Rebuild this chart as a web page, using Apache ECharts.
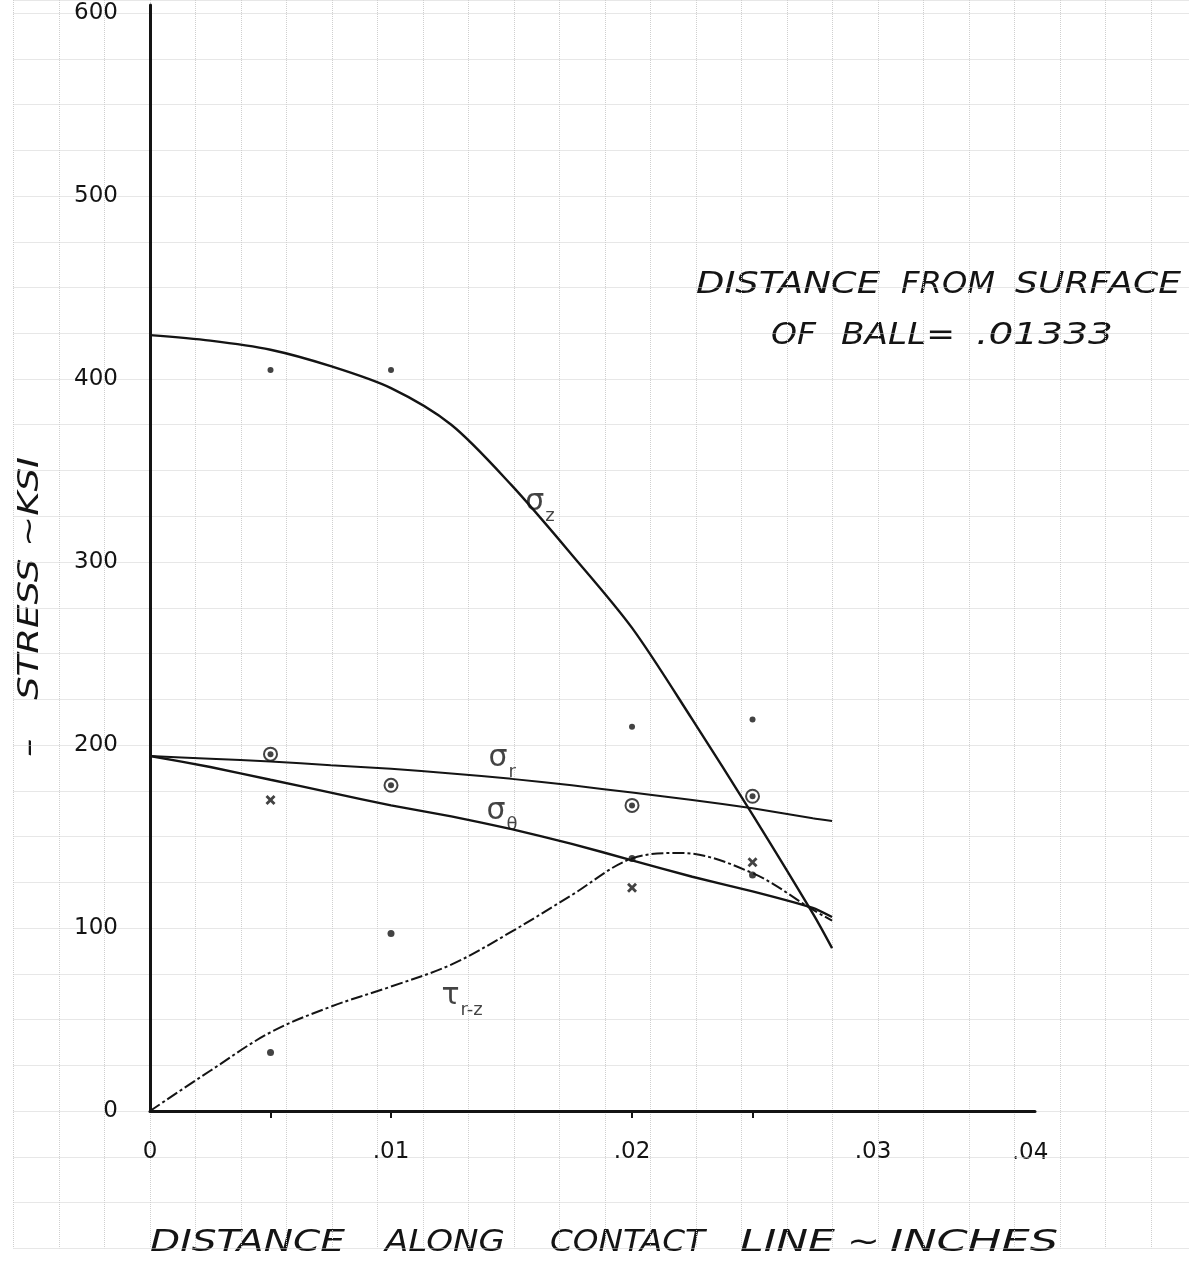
<!DOCTYPE html>
<html><head><meta charset="utf-8">
<script src="https://cdn.jsdelivr.net/npm/echarts@6/dist/echarts.min.js"></script>
<style>html,body{margin:0;padding:0;background:#fff}#c{width:1189px;height:1262px}</style>
</head><body><div id="c"></div>
<script>
// ---- data ----
const curveX      = [0, 0.0025, 0.005, 0.0075, 0.01, 0.0125, 0.015, 0.0175, 0.02, 0.0225, 0.025, 0.0275, 0.0283];
const sigmaZCurve = [424, 421, 416, 407, 395, 375, 342, 304, 264, 214, 162, 108, 89];
const sigmaRCurve = [194, 192.5, 191, 189, 187, 184.5, 181.5, 178, 174, 170, 165.5, 160, 158.5];
const sigmaTCurve = [194, 188, 181, 174, 167, 161, 154, 146, 137, 128, 120, 111, 106];
const tauX        = [0, 0.0025, 0.005, 0.0075, 0.01, 0.0125, 0.015, 0.0175, 0.02, 0.022, 0.025, 0.0275, 0.0283];
const tauCurve    = [0, 22, 43, 57, 68, 80, 98, 118, 138, 141, 130, 110, 104];

const pointX      = [0.005, 0.01, 0.02, 0.025];
const sigmaZPts   = [405, 405, 210, 214];
const sigmaRPts   = [195, 178, 167, 172];
const tauPts      = [32, 97, 138, 129];
const sigmaTPtX   = [0.005, 0.02, 0.025];
const sigmaTPts   = [170, 122, 136];

const xTickValues  = [0.005, 0.01, 0.02, 0.025];
const xLabelValues = [0, 0.01, 0.02, 0.03];
const yTicks       = [0, 100, 200, 300, 400, 500, 600];

const curveLabelX = [0.01618, 0.01461, 0.01461, 0.01295];
const curveLabelY = [330.6, 190.7, 161.7, 60.7];
const curveLabelTexts = ['{g|σ}{s|z}', '{g|σ}{s|r}', '{g|σ}{s|θ}', '{g|τ}{s|r-z}'];

// ---- helpers ----
const zip = (xs, ys) => xs.map((x, i) => [x, ys[i]]);
const ink = '#141414';
const FF = '"DejaVu Sans", sans-serif';
const cvs = document.createElement('canvas').getContext('2d');
function measure(text, font) { cvs.font = font; return cvs.measureText(text).width; }
function fitText(text, left, right, cy, size, italic) {
  const font = (italic ? 'italic ' : '') + size + 'px ' + FF;
  const w = measure(text, font);
  return { type: 'text', x: left, y: cy, scaleX: (right - left) / w, silent: true,
    style: { text: text, font: font, fill: ink, textAlign: 'left', textVerticalAlign: 'middle' } };
}
function fitRotated(text, x, bottom, top, size) {
  const font = 'italic ' + size + 'px ' + FF;
  const w = measure(text, font);
  return { type: 'text', x: x, y: (bottom + top) / 2, rotation: Math.PI / 2, scaleX: (bottom - top) / w, silent: true,
    style: { text: text, font: font, fill: ink, textAlign: 'center', textVerticalAlign: 'middle' } };
}

const graphics = [
  fitText('DISTANCE', 696, 880, 285, 31, true),
  fitText('FROM', 901, 995, 285, 31, true),
  fitText('SURFACE', 1015, 1181, 285, 31, true),
  fitText('OF', 771, 816, 336, 31, true),
  fitText('BALL=', 841, 955, 336, 31, true),
  fitText('.01333', 976, 1113, 336, 31, true),
  fitText('DISTANCE', 150, 345, 1243, 30, true),
  fitText('ALONG', 385, 505, 1243, 30, true),
  fitText('CONTACT', 550, 705, 1243, 30, true),
  fitText('LINE', 740, 835, 1243, 30, true),
  fitText('~', 847, 880, 1243, 30, true),
  fitText('INCHES', 890, 1058, 1243, 30, true),
  fitRotated('STRESS ~KSI', 30, 700, 457, 29),
  fitRotated('-', 30, 758, 738, 29),
  { type: 'text', x: 1030, y: 1153, silent: true,
    style: { text: '.04', font: '23px ' + FF, fill: ink, textAlign: 'center', textVerticalAlign: 'middle' } }
];

const xSymbol = 'path://M2,0 L5,3 L8,0 L10,2 L7,5 L10,8 L8,10 L5,7 L2,10 L0,8 L3,5 L0,2 Z';
const paperLine = { show: true, lineStyle: { color: '#cfcfcf', type: 'dotted', width: 1 } };

const chart = echarts.init(document.getElementById('c'), null, { renderer: 'canvas' });
chart.setOption({
  backgroundColor: '#ffffff',
  animation: false,
  grid: [
    { left: 150, right: 154, top: 5, bottom: 151 },
    { left: 13.5, right: 0, top: 0, bottom: 13.75 }
  ],
  xAxis: [
    { type: 'value', gridIndex: 0, min: 0, max: 0.03672, interval: 0.01,
      axisLine: { show: true, lineStyle: { color: ink, width: 3 } },
      axisTick: { show: true, customValues: xTickValues, length: 7, lineStyle: { color: ink, width: 2 } },
      axisLabel: { customValues: xLabelValues, margin: 30, color: ink, fontSize: 23, fontFamily: FF,
        formatter: v => v === 0 ? '0' : ('.' + String(Math.round(v * 100)).padStart(2, '0')) },
      splitLine: { show: false } },
    { type: 'value', gridIndex: 1, min: 0, max: 1175.5, interval: 45.5,
      axisLine: { show: false }, axisTick: { show: false }, axisLabel: { show: false },
      splitLine: paperLine }
  ],
  yAxis: [
    { type: 'value', gridIndex: 0, min: 0, max: 604.4, interval: 100,
      axisLine: { show: true, lineStyle: { color: ink, width: 3 } },
      axisTick: { show: false },
      axisLabel: { margin: 32, color: ink, fontSize: 23, fontFamily: FF, showMaxLabel: false,
        formatter: v => yTicks.indexOf(v) >= 0 ? String(v) : '' },
      splitLine: { show: false } },
    { type: 'value', gridIndex: 1, min: 0, max: 1248.25, interval: 45.75,
      axisLine: { show: false }, axisTick: { show: false }, axisLabel: { show: false },
      splitLine: paperLine }
  ],
  graphic: graphics,
  series: [
    { name: 'σz', type: 'line', data: zip(curveX, sigmaZCurve), smooth: 0.3, showSymbol: false,
      lineStyle: { color: ink, width: 2.4 }, z: 5, silent: true },
    { name: 'σr', type: 'line', data: zip(curveX, sigmaRCurve), smooth: 0.2, showSymbol: false,
      lineStyle: { color: ink, width: 2 }, z: 5, silent: true },
    { name: 'σθ', type: 'line', data: zip(curveX, sigmaTCurve), smooth: 0.2, showSymbol: false,
      lineStyle: { color: ink, width: 2.4 }, z: 5, silent: true },
    { name: 'τr-z', type: 'line', data: zip(tauX, tauCurve), smooth: 0.35, showSymbol: false,
      lineStyle: { color: ink, width: 2, type: [12, 3, 3, 3] }, z: 5, silent: true },
    { name: 'σz pts', type: 'scatter', data: zip(pointX, sigmaZPts), symbol: 'circle', symbolSize: 6,
      itemStyle: { color: ink }, z: 6, silent: true },
    { name: 'σr pts ring', type: 'scatter', data: zip(pointX, sigmaRPts), symbol: 'circle', symbolSize: 13,
      itemStyle: { color: 'rgba(255,255,255,0)', borderColor: ink, borderWidth: 2 }, z: 6, silent: true },
    { name: 'σr pts', type: 'scatter', data: zip(pointX, sigmaRPts), symbol: 'circle', symbolSize: 6,
      itemStyle: { color: ink }, z: 6, silent: true },
    { name: 'σθ pts', type: 'scatter', data: zip(sigmaTPtX, sigmaTPts), symbol: xSymbol, symbolSize: 10,
      itemStyle: { color: ink }, z: 6, silent: true },
    { name: 'τ pts', type: 'scatter', data: zip(pointX, tauPts), symbol: 'circle', symbolSize: 7,
      itemStyle: { color: ink }, z: 6, silent: true },
    { name: 'labels', type: 'scatter', symbolSize: 0, z: 7, silent: true,
      data: curveLabelX.map((x, i) => ({ value: [x, curveLabelY[i]], label: { formatter: curveLabelTexts[i] } })),
      label: { show: true, position: 'inside', color: ink,
        rich: {
          g: { fontSize: 30, fontFamily: FF, color: ink, lineHeight: 30, verticalAlign: 'top' },
          s: { fontSize: 18, fontFamily: FF, color: ink, lineHeight: 38, verticalAlign: 'bottom', padding: [0, 0, 0, 1] }
        } } }
  ]
});
</script>
</body></html>
